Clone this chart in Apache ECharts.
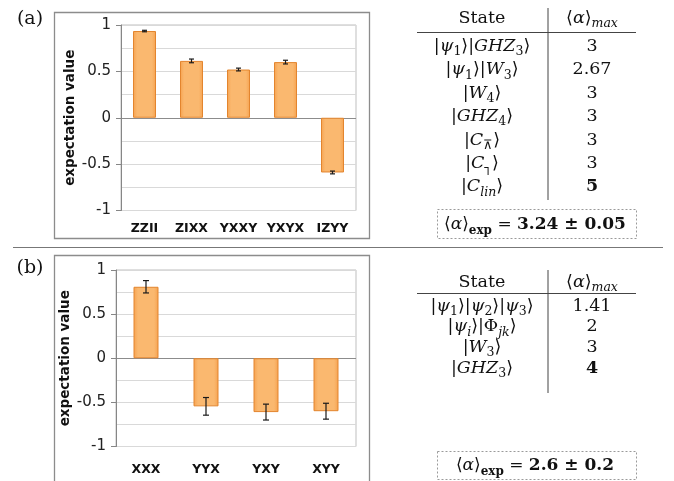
<!DOCTYPE html>
<html>
<head>
<meta charset="utf-8">
<script src="https://cdn.jsdelivr.net/npm/echarts@6/dist/echarts.min.js"></script>
<style>
  html, body { margin: 0; padding: 0; background: #fff; }
  #chart { width: 674px; height: 481px; }
</style>
</head>
<body>
<div id="chart"></div>
<script>
// Panel (a): four-qubit correlators
const categoriesA = ['ZZII', 'ZIXX', 'YXXY', 'YXYX', 'IZYY'];
const valuesA = [0.935, 0.613, 0.52, 0.60, -0.59];
const errorsA = [0.008, 0.02, 0.015, 0.02, 0.015];

// Panel (b): three-qubit correlators
const categoriesB = ['XXX', 'YYX', 'YXY', 'XYY'];
const valuesB = [0.81, -0.545, -0.61, -0.60];
const errorsB = [0.07, 0.10, 0.09, 0.09];

// Table contents (rich-text markup: i = italic, s = subscript, si = italic subscript, b = bold)
const tableHeader = ['State', '⟨{i|α}⟩{si|max}'];
const statesA = [
  '|{i|ψ}{s|1}⟩|{i|GHZ}{s|3}⟩',
  '|{i|ψ}{s|1}⟩|{i|W}{s|3}⟩',
  '|{i|W}{s|4}⟩',
  '|{i|GHZ}{s|4}⟩',
  '|{i|C}{s|⊼}⟩',
  '|{i|C}{s|┐}⟩',
  '|{i|C}{si|lin}⟩'
];
const alphaMaxA = ['3', '2.67', '3', '3', '3', '3', '{b|5}'];
const alphaExpA = '3.24 ± 0.05';

const statesB = [
  '|{i|ψ}{s|1}⟩|{i|ψ}{s|2}⟩|{i|ψ}{s|3}⟩',
  '|{i|ψ}{si|i}⟩|Φ{si|jk}⟩',
  '|{i|W}{s|3}⟩',
  '|{i|GHZ}{s|3}⟩'
];
const alphaMaxB = ['1.41', '2', '3', '{b|4}'];
const alphaExpB = '2.6 ± 0.2';

const SANS = 'DejaVu Sans';
const SERIF = 'DejaVu Serif';
const INK = '#111';

const chart = echarts.init(document.getElementById('chart'), null, { renderer: 'canvas' });

function yAxisFor(gridIndex, nameGap) {
  return {
    type: 'value', gridIndex, min: -1, max: 1, interval: 0.5,
    name: 'expectation value', nameLocation: 'middle', nameRotate: 90, nameGap,
    nameTextStyle: { fontFamily: SANS, fontWeight: 'bold', fontSize: 13.5, color: INK },
    axisLine: { show: true, lineStyle: { color: '#868686', width: 1 } },
    axisTick: { show: true, length: 5, lineStyle: { color: '#868686' } },
    axisLabel: { fontFamily: SANS, fontSize: 15, color: '#222', margin: 10 },
    splitLine: { show: true, lineStyle: { color: ['#D9D9D9', '#D9D9D9', '#8C8C8C', '#D9D9D9', '#D9D9D9'], width: 1 } },
    minorTick: { show: false, splitNumber: 2 },
    minorSplitLine: { show: true, lineStyle: { color: '#D9D9D9', width: 1 } }
  };
}

function xAxisFor(gridIndex, data, margin) {
  return {
    type: 'category', gridIndex, data, position: 'bottom',
    axisLine: { show: false, onZero: false },
    axisTick: { show: false },
    splitLine: { show: false },
    axisLabel: { fontFamily: SANS, fontWeight: 'bold', fontSize: 12.5, color: INK, margin, interval: 0 }
  };
}

const barFill = {
  type: 'linear', x: 0, y: 0, x2: 1, y2: 0,
  colorStops: [
    { offset: 0, color: '#F6A24F' },
    { offset: 0.18, color: '#FAB86F' },
    { offset: 0.82, color: '#FAB86F' },
    { offset: 1, color: '#F6A24F' }
  ]
};

function barSeries(idx, values, width) {
  return {
    type: 'bar', xAxisIndex: idx, yAxisIndex: idx, data: values, barWidth: width,
    itemStyle: { color: barFill, borderColor: '#E3852E', borderWidth: 1 },
    silent: true
  };
}

function errorSeries(idx, values, errors, cap) {
  return {
    type: 'custom', xAxisIndex: idx, yAxisIndex: idx, z: 5, silent: true,
    data: values.map((v, i) => [i, v - errors[i], v + errors[i]]),
    encode: { x: 0, y: [1, 2] },
    renderItem(params, api) {
      const top = api.coord([api.value(0), api.value(2)]);
      const bot = api.coord([api.value(0), api.value(1)]);
      const s = { stroke: '#1a1a1a', lineWidth: 1.2 };
      return {
        type: 'group',
        children: [
          { type: 'line', shape: { x1: top[0], y1: top[1], x2: bot[0], y2: bot[1] }, style: s },
          { type: 'line', shape: { x1: top[0] - cap, y1: top[1], x2: top[0] + cap, y2: top[1] }, style: s },
          { type: 'line', shape: { x1: bot[0] - cap, y1: bot[1], x2: bot[0] + cap, y2: bot[1] }, style: s }
        ]
      };
    }
  };
}

// ---------- tables drawn as graphic elements ----------
function richStylesFor(size, sub) {
  const base = { fontFamily: SERIF, fill: INK };
  return {
    r:  Object.assign({}, base, { fontSize: size, lineHeight: 24, font: size + 'px "' + SERIF + '"' }),
    i:  Object.assign({}, base, { fontSize: size, fontStyle: 'italic', lineHeight: 24, font: 'italic ' + size + 'px "' + SERIF + '"' }),
    b:  Object.assign({}, base, { fontSize: size, fontWeight: 'bold', lineHeight: 24, font: 'bold ' + size + 'px "' + SERIF + '"' }),
    s:  Object.assign({}, base, { fontSize: sub, lineHeight: 15, verticalAlign: 'bottom', font: sub + 'px "' + SERIF + '"' }),
    si: Object.assign({}, base, { fontSize: sub, fontStyle: 'italic', lineHeight: 15, verticalAlign: 'bottom', font: 'italic ' + sub + 'px "' + SERIF + '"' }),
    sb: Object.assign({}, base, { fontSize: sub, fontWeight: 'bold', lineHeight: 15, verticalAlign: 'bottom', font: 'bold ' + sub + 'px "' + SERIF + '"' })
  };
}
const richNormal = richStylesFor(17.5, 12.5);
const richLetter = richStylesFor(19, 13);
const richBox = richStylesFor(17, 12);

// wrap the unstyled runs of a markup string in the regular-serif style
function wrapPlain(markup) {
  const out = [];
  const re = /\{[a-z]+\|[^}]*\}/g;
  let last = 0, m;
  while ((m = re.exec(markup)) !== null) {
    if (m.index > last) out.push('{r|' + markup.slice(last, m.index) + '}');
    out.push(m[0]);
    last = m.index + m[0].length;
  }
  if (last < markup.length) out.push('{r|' + markup.slice(last) + '}');
  return out.join('');
}

function mathText(text, x, y, rich) {
  const r = rich || richNormal;
  return {
    type: 'text', silent: true,
    style: {
      text: wrapPlain(text), x, y,
      font: r.r.font, fontFamily: SERIF, fontSize: r.r.fontSize, fill: INK, lineHeight: 24,
      align: 'center', verticalAlign: 'middle',
      textAlign: 'center', textVerticalAlign: 'middle',
      rich: r
    }
  };
}

function hline(x1, x2, y, style) {
  return { type: 'line', silent: true, shape: { x1, y1: y, x2, y2: y }, style: Object.assign({ stroke: '#444', lineWidth: 1 }, style || {}) };
}
function vline(x, y1, y2, style) {
  return { type: 'line', silent: true, shape: { x1: x, y1, x2: x, y2 }, style: Object.assign({ stroke: '#444', lineWidth: 1 }, style || {}) };
}

function tableGraphics(layout, states, maxes, expValue) {
  const colState = 482, colMax = 592, colRule = 548;
  const els = [];
  els.push(mathText(tableHeader[0], colState, layout.headerY));
  els.push(mathText(tableHeader[1], colMax, layout.headerY));
  els.push(hline(417, 636, layout.ruleY));
  els.push(vline(colRule, layout.vTop, layout.vBottom));
  states.forEach((s, i) => {
    const y = layout.rowY + i * layout.rowStep;
    els.push(mathText(s, colState, y));
    els.push(mathText(maxes[i], colMax, y));
  });
  els.push({
    type: 'rect', silent: true,
    shape: { x: 437.5, y: layout.boxY + 0.5, width: 199, height: layout.boxH },
    style: { fill: 'none', stroke: '#9A9A9A', lineWidth: 1, lineDash: [2, 2] }
  });
  els.push(mathText('⟨{i|α}⟩{sb|exp} = {b|' + expValue + '}', 535, layout.boxY + layout.boxH / 2 + 1, richBox));
  return els;
}

const graphics = [
  // chart frames
  { type: 'rect', silent: true, shape: { x: 54.5, y: 12.5, width: 315, height: 226 }, style: { fill: 'none', stroke: '#8C8C8C', lineWidth: 1.3 } },
  { type: 'rect', silent: true, shape: { x: 54.5, y: 255.5, width: 315, height: 240 }, style: { fill: 'none', stroke: '#8C8C8C', lineWidth: 1.3 } },
  // divider between panels
  hline(13, 663, 247.5, { stroke: '#777', lineWidth: 1.2 }),
  // panel letters
  mathText('(a)', 30, 19, richLetter),
  mathText('(b)', 30, 268, richLetter)
].concat(
  tableGraphics({ headerY: 18, ruleY: 32.5, vTop: 8, vBottom: 200, rowY: 46.5, rowStep: 23.4, boxY: 209, boxH: 29 }, statesA, alphaMaxA, alphaExpA),
  tableGraphics({ headerY: 282, ruleY: 293.5, vTop: 270, vBottom: 393, rowY: 306, rowStep: 20.8, boxY: 451, boxH: 28 }, statesB, alphaMaxB, alphaExpB)
);

chart.setOption({
  animation: false,
  backgroundColor: '#fff',
  grid: [
    { left: 121, top: 25, width: 235, height: 185.5, show: true, borderColor: '#BFBFBF', borderWidth: 1, backgroundColor: 'transparent' },
    { left: 116, top: 270, width: 240, height: 176.5, show: true, borderColor: '#BFBFBF', borderWidth: 1, backgroundColor: 'transparent' }
  ],
  xAxis: [xAxisFor(0, categoriesA, 12), xAxisFor(1, categoriesB, 17)],
  yAxis: [yAxisFor(0, 44), yAxisFor(1, 39)],
  series: [
    barSeries(0, valuesA, 23),
    errorSeries(0, valuesA, errorsA, 2.5),
    barSeries(1, valuesB, 25),
    errorSeries(1, valuesB, errorsB, 3)
  ],
  graphic: graphics
});
</script>
</body>
</html>
